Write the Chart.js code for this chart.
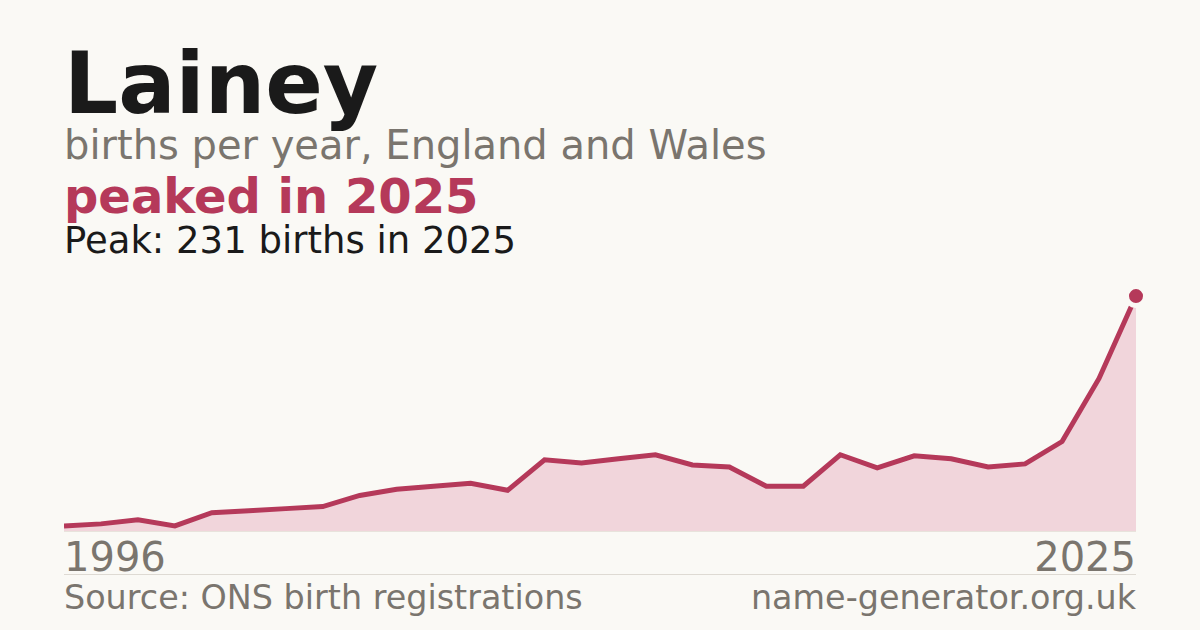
<!DOCTYPE html>
<html>
<head>
<meta charset="utf-8">
<script src="https://cdn.jsdelivr.net/npm/chart.js@4/dist/chart.umd.min.js"></script>
<style>
  html, body { margin: 0; padding: 0; }
  body { width: 1200px; height: 630px; background: #faf9f5; position: relative; overflow: hidden;
         font-family: "DejaVu Sans", sans-serif; }
  .t { position: absolute; left: 64px; line-height: 1; white-space: nowrap; }
  #title { top: 41px; font-size: 85px; font-weight: bold; color: #1a1a1a; }
  #sub { top: 125px; font-size: 40px; color: #7a756e; }
  #peaked { top: 172px; font-size: 48px; font-weight: bold; color: #b5395a; }
  #peak { top: 222px; font-size: 37px; color: #1a1a1a; }
  .yr { position: absolute; top: 537px; font-size: 40px; line-height: 1; color: #7a756e; }
  #first { left: 64px; }
  #last { right: 64px; }
  #rule { position: absolute; left: 64px; width: 1072px; top: 574px; height: 1px; background: #dedad3; }
  #base { position: absolute; left: 64px; width: 1072px; top: 531px; height: 1px; background: #e8e3dc; }
  .foot { position: absolute; top: 581px; font-size: 33.4px; line-height: 1; color: #7a756e; }
  #src { left: 64px; }
  #site { right: 64px; }
  #wrap { position: absolute; left: 64px; top: 280px; width: 1090px; height: 251px; }
</style>
</head>
<body>
<div class="t" id="title">Lainey</div>
<div class="t" id="sub">births per year, England and Wales</div>
<div class="t" id="peaked">peaked in 2025</div>
<div class="t" id="peak">Peak: 231 births in 2025</div>
<div id="base"></div>
<div id="wrap"><canvas id="chart"></canvas></div>
<div class="yr" id="first"></div>
<div class="yr" id="last"></div>
<div id="rule"></div>
<div class="foot" id="src">Source: ONS birth registrations</div>
<div class="foot" id="site">name-generator.org.uk</div>
<script>
// births per year for Lainey
const years = [1996, 1997, 1998, 1999, 2000, 2001, 2002, 2003, 2004, 2005,
               2006, 2007, 2008, 2009, 2010, 2011, 2012, 2013, 2014, 2015,
               2016, 2017, 2018, 2019, 2020, 2021, 2022, 2023, 2024, 2025];
const births = [5, 7, 11, 5, 18, 20, 22, 24, 35, 41,
                44, 47, 40, 70, 67, 71, 75, 65, 63, 44,
                44, 75, 62, 74, 71, 63, 66, 88, 150, 231];
const tickLabels = [String(years[0]), String(years[years.length - 1])];

document.getElementById('first').textContent = tickLabels[0];
document.getElementById('last').textContent = tickLabels[1];

const red = '#b5395a';
const bg = '#faf9f5';
const peakIdx = births.indexOf(Math.max.apply(null, births));

const ctx = document.getElementById('chart');
new Chart(ctx, {
    type: 'line',
    data: {
        labels: years,
        datasets: [{
            data: births,
            borderColor: red,
            borderWidth: 5,
            backgroundColor: '#f1d5db',
            fill: 'origin',
            tension: 0,
            clip: false,
            // peak dot with a halo in the page colour
            pointRadius: births.map(function(v, i) { return i === peakIdx ? 9.5 : 0; }),
            pointBackgroundColor: red,
            pointBorderColor: bg,
            pointBorderWidth: 5,
            pointHoverRadius: 0
        }]
    },
    options: {
        responsive: true,
        maintainAspectRatio: false,
        animation: false,
        layout: { autoPadding: false, padding: { top: 10, right: 18, bottom: 0, left: 0 } },
        plugins: { legend: { display: false }, tooltip: { enabled: false } },
        scales: {
            x: { display: false, offset: false },
            y: { display: false, min: 0, max: 237 }
        }
    }
});
</script>
</body>
</html>
